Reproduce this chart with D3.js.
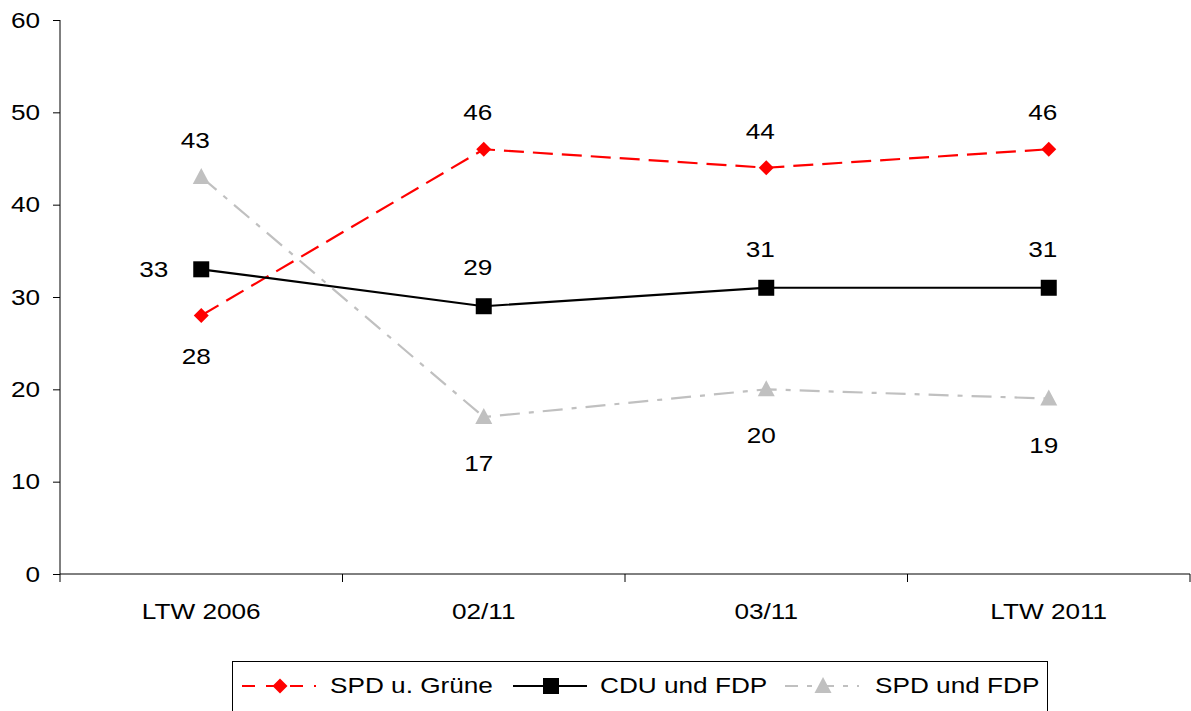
<!DOCTYPE html>
<html><head><meta charset="utf-8">
<script src="https://cdn.jsdelivr.net/npm/d3@7"></script>
<style>body{margin:0;background:#fff}svg{display:block;font-family:"Liberation Sans",Arial,sans-serif}</style>
</head><body>
<svg id="c" width="1191" height="711"></svg>
<script>
const categories = ["LTW 2006", "02/11", "03/11", "LTW 2011"];
const spdGruene = [28, 46, 44, 46];
const cduFdp = [33, 29, 31, 31];
const spdFdp = [43, 17, 20, 19];
const yTicks = [0, 10, 20, 30, 40, 50, 60];

const SX = 1.19;      // horizontal stretch of the text in the reference
const FS = 22;
const FONT = '"Liberation Sans",Arial,sans-serif';

const svg = d3.select("#c");
const x = d3.scaleBand().domain(categories).range([60, 1190]);
const y = d3.scaleLinear().domain([0, 60]).range([574, 20]);
const cx = d => x(d) + x.bandwidth() / 2;

function addText(parent, tx, ty, str, anchor) {
  return parent.append("text")
    .attr("transform", `translate(${tx},${ty}) scale(${SX},1)`)
    .attr("text-anchor", anchor || "middle")
    .attr("font-size", FS).attr("font-family", FONT).attr("fill", "#000").text(str);
}

// axes
const yAx = svg.append("g").attr("transform", "translate(60,0)")
  .call(d3.axisLeft(y).tickValues(yTicks).tickSize(7).tickPadding(13));
const xAx = svg.append("g").attr("transform", "translate(0,574)")
  .call(d3.axisBottom(x).tickSize(0).tickPadding(29));
yAx.selectAll("text").attr("x", -20 / SX).attr("transform", `scale(${SX},1)`);
xAx.selectAll("text").attr("transform", `scale(${SX},1)`);
const bounds = categories.map(c => x(c)).concat([x(categories[categories.length-1]) + x.bandwidth()]);
xAx.selectAll(".bt").data(bounds).enter().append("line")
  .attr("x1", d => d).attr("x2", d => d).attr("y1", 0).attr("y2", 8)
  .attr("stroke", "#000").attr("stroke-width", 1);
[yAx, xAx].forEach(g => {
  g.attr("font-size", FS).attr("font-family", FONT);
  g.selectAll("text").attr("font-size", FS).attr("fill", "#000");
  g.selectAll("path,line").attr("stroke", "#000");
});
yAx.select(".domain").attr("d", "M0,20V574");
xAx.select(".domain").attr("d", "M60,0H1190");

const series = [
  {name: "SPD u. Grüne", values: spdGruene, color: "#ff0000", dash: "20,9", legDash: "13,11", marker: "diamond",
   labelPos: ["below", "above", "above", "above"], above: -29, below: 49},
  {name: "CDU und FDP", values: cduFdp, color: "#000000", dash: null, legDash: null, marker: "square",
   labelPos: ["left", "above", "above", "above"], above: -31, below: 50},
  {name: "SPD und FDP", values: spdFdp, color: "#c0c0c0", dash: "20,9,5,9", legDash: "13,9,5,9", marker: "triangle",
   labelPos: ["above", "below", "below", "below"], above: -29, below: 54}
];

function drawMarker(g, type, color) {
  if (type === "square") g.append("rect").attr("x", -8).attr("y", -8).attr("width", 16).attr("height", 16).attr("fill", color);
  else if (type === "diamond") g.append("path").attr("d", "M0,-7.5L7.5,0L0,7.5L-7.5,0Z").attr("fill", color);
  else g.append("path").attr("d", "M0,-9L8.5,7L-8.5,7Z").attr("fill", color);
}

const line = d3.line().x((d, i) => cx(categories[i])).y(d => y(d));

series.forEach(s => {
  svg.append("path").attr("d", line(s.values)).attr("fill", "none")
    .attr("stroke", s.color).attr("stroke-width", 2.2)
    .attr("stroke-dasharray", s.dash);
});
series.forEach(s => {
  s.values.forEach((v, i) => {
    const g = svg.append("g").attr("transform", `translate(${cx(categories[i])},${y(v)})`);
    drawMarker(g, s.marker, s.color);
    const p = s.labelPos[i];
    if (p === "above") addText(g, -6, s.above, v);
    else if (p === "below") addText(g, -5, s.below, v);
    else addText(g, -33, 8, v, "end");
  });
});

// legend
const lg = svg.append("g");
lg.append("rect").attr("x", 232.5).attr("y", 661.5).attr("width", 815).attr("height", 60)
  .attr("fill", "none").attr("stroke", "#000").attr("stroke-width", 1);
const legX = [{lx: 242, tx: 330}, {lx: 513, tx: 600}, {lx: 785, tx: 875}];
series.forEach((s, i) => {
  const ly = 686;
  const L = legX[i];
  lg.append("line").attr("x1", L.lx).attr("x2", L.lx + 74).attr("y1", ly).attr("y2", ly)
    .attr("stroke", s.color).attr("stroke-width", 2.2).attr("stroke-dasharray", s.legDash);
  const g = lg.append("g").attr("transform", `translate(${L.lx + 38},${ly})`);
  drawMarker(g, s.marker, s.color);
  addText(lg, L.tx, ly + 7, s.name, "start");
});
</script>
</body></html>
